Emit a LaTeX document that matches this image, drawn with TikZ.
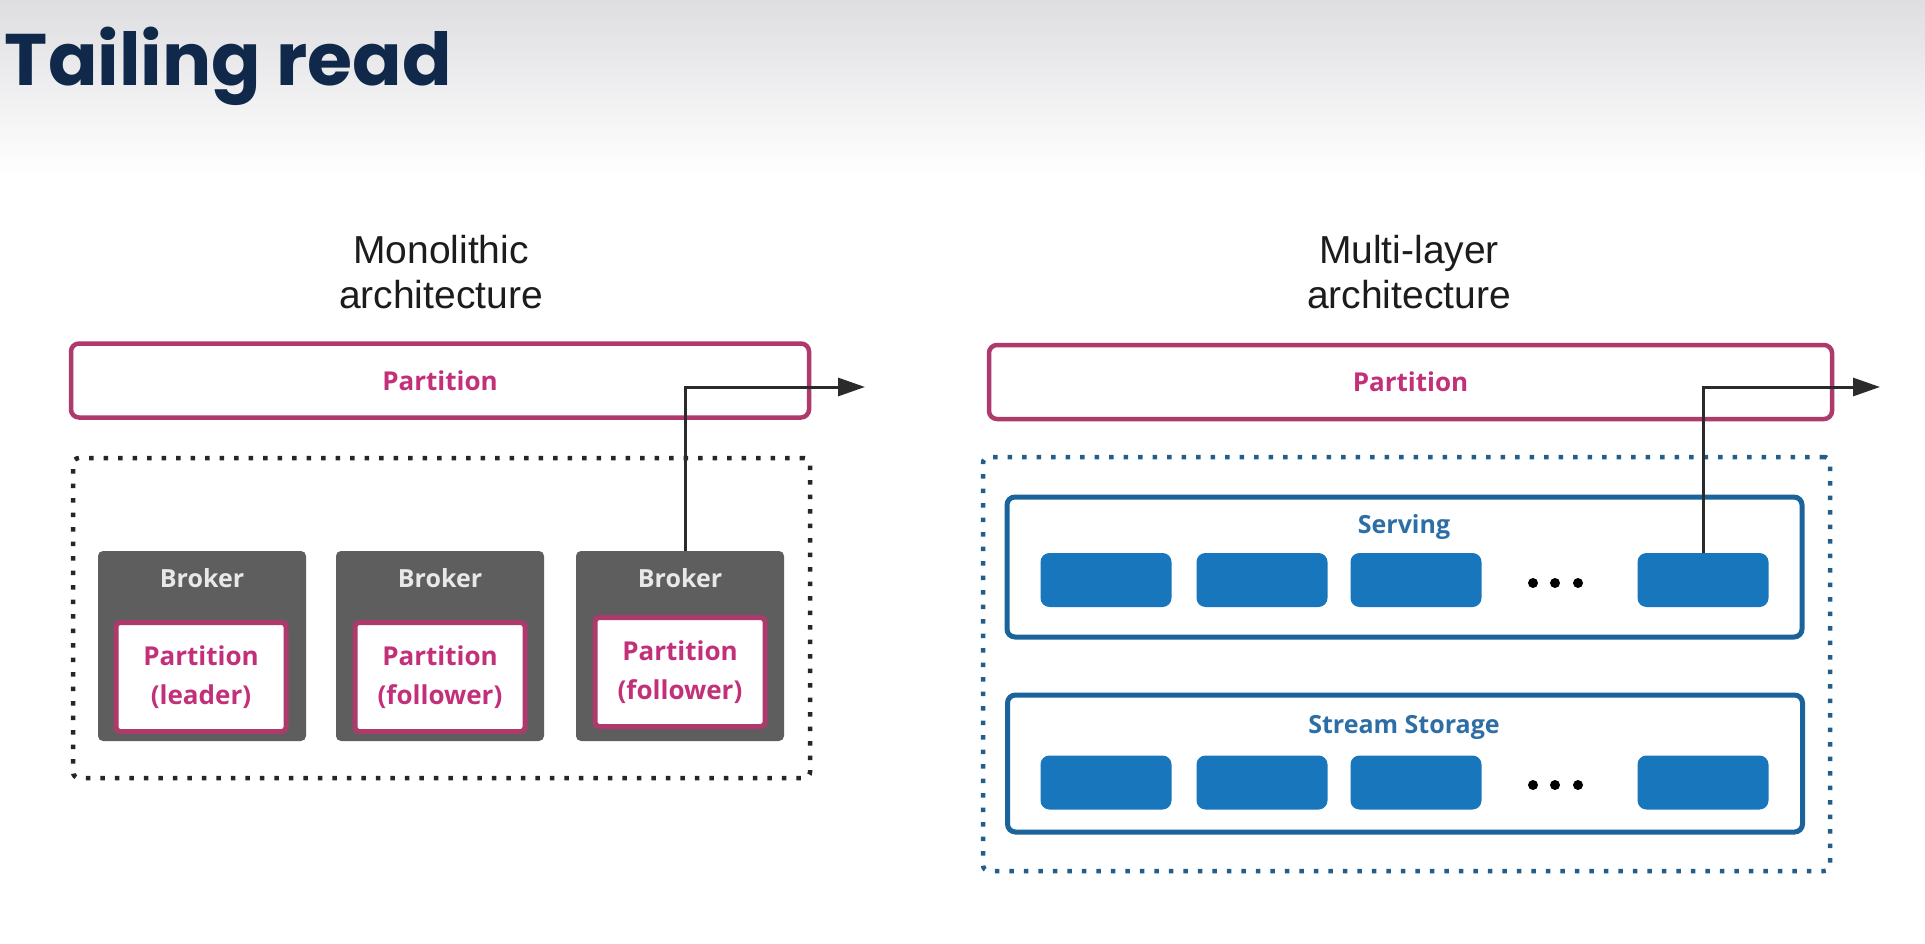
\documentclass[tikz,border=0pt]{standalone}
\usepackage{fontspec}
\setmainfont{Liberation Sans}
\newfontfamily\titlefont{Poppins}
\newfontfamily\boxfont{Open Sans}
\usetikzlibrary{arrows.meta}
\definecolor{titleblue}{HTML}{10294B}
\definecolor{bggray}{HTML}{DEDEE1}
\definecolor{headtext}{HTML}{1C1C1C}
\definecolor{partline}{HTML}{AE3A6C}
\definecolor{parttext}{HTML}{C2307A}
\definecolor{brokerfill}{HTML}{5E5E5E}
\definecolor{brokertext}{HTML}{E8E8E8}
\definecolor{blockblue}{HTML}{1776BC}
\definecolor{layerline}{HTML}{1B639B}
\definecolor{layertext}{HTML}{2D6EA6}
\definecolor{dotblue}{HTML}{235D8A}
\definecolor{arrowgray}{HTML}{2B2B2B}
\begin{document}
\begin{tikzpicture}[x=1pt,y=-1pt,
    partbar/.style={draw=partline, line width=4.5pt, rounded corners=8pt, fill=white,
                    minimum height=74pt, font=\boxfont\bfseries\fontsize{26}{30}\selectfont, text=parttext},
    dotbox/.style={line width=4.5pt, dash pattern=on 4.5pt off 10pt, rounded corners=6pt,
                   minimum width=#1},
    readarrow/.style={draw=arrowgray, line width=3pt, -{Triangle[length=27pt,width=18pt]}}]
\tikzset{every node/.style={inner sep=0pt, outer sep=0pt}}
\tikzset{brokerbox/.style={fill=brokerfill, rounded corners=5pt, minimum width=208pt, minimum height=190pt},
         brokerlbl/.style={font=\boxfont\bfseries\fontsize{25}{30}\selectfont, text=brokertext},
         innerpart/.style={draw=partline, fill=white, line width=5pt, rounded corners=4pt,
                           minimum width=170pt, minimum height=109pt, align=center,
                           font=\boxfont\bfseries\fontsize{26}{39}\selectfont, text=parttext},
         layerbox/.style={draw=layerline, line width=5pt, rounded corners=8pt, minimum width=795pt},
         layerlbl/.style={font=\boxfont\bfseries\fontsize{25}{30}\selectfont, text=layertext},
         blockbox/.style={fill=blockblue, rounded corners=9pt, minimum width=131pt, minimum height=54pt},
         heading/.style={align=center, font=\fontsize{39}{45}\selectfont, text=headtext}}
\useasboundingbox (0,0) rectangle (1925,944);
\fill[white] (0,0) rectangle (1925,944);
\shade[top color=bggray, bottom color=white] (0,0) rectangle (1925,175);

\node[anchor=base west, font=\titlefont\bfseries\fontsize{73}{80}\selectfont, text=titleblue]
    (title) at (5,86) {Tailing read};

% monolithic side
\node[heading, anchor=base] (monohead) at (441,308) {Monolithic\\architecture};
\node[partbar, minimum width=738pt] (partL) at (440,380.5) {Partition};
\node[dotbox=737pt, draw=black!85, minimum height=320pt] (mono) at (441.5,618) {};

\node[brokerbox] (b1) at (202,646) {};
\node[brokerbox] (b2) at (440,646) {};
\node[brokerbox] (b3) at (680,646) {};
\foreach \b in {b1,b2,b3}
    \node[brokerlbl, anchor=base] (\b lbl) at ([yshift=-36pt]\b.north) {Broker};

\node[innerpart] (p1) at (201,677) {Partition\\(leader)};
\node[innerpart] (p2) at (440,677) {Partition\\(follower)};
\node[innerpart] (p3) at (680,672) {Partition\\(follower)};

\coordinate (outL) at (865,387);
\draw[readarrow] ([xshift=5pt]b3.north) |- (outL);

% multi-layer side
\node[heading, anchor=base] (multihead) at (1409,308) {Multi-layer\\architecture};
\node[partbar, minimum width=843pt] (partR) at (1410.5,382) {Partition};
\node[dotbox=847pt, draw=dotblue, minimum height=414pt] (multi) at (1406.5,664) {};

\node[layerbox, minimum height=140pt] (serving) at (1404.5,567) {};
\node[layerbox, minimum height=137pt] (storage) at (1405,763.5) {};
\node[layerlbl, anchor=base] (servlbl) at (1404,533) {Serving};
\node[layerlbl, anchor=base] (storlbl) at (1404,733) {Stream Storage};

\foreach \i/\cx in {1/1106,2/1262,3/1416,4/1703} {
    \node[blockbox] (s\i) at (\cx,580) {};
    \node[blockbox] (t\i) at (\cx,782.5) {};
}
\foreach \dx in {1533,1555,1578} {
    \fill (\dx,583) circle (5pt);
    \fill (\dx,785) circle (5pt);
}

\coordinate (outR) at (1880,387);
\draw[readarrow] (s4.north) |- (outR);
\end{tikzpicture}
\end{document}
